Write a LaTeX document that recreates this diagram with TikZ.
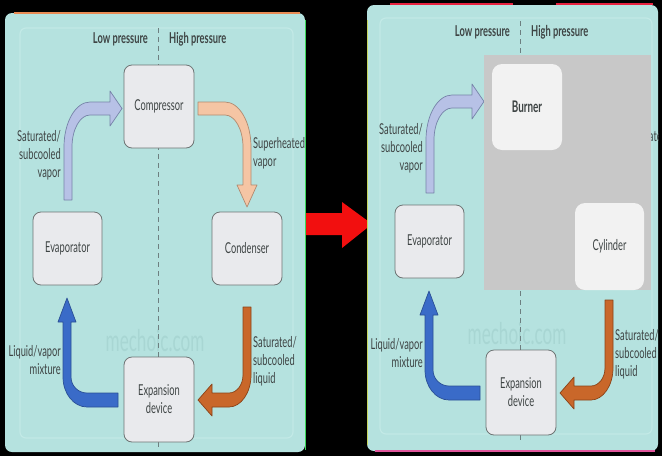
\documentclass[tikz,border=0pt]{standalone}
\usepackage{fontspec}
\setmainfont{Lato}
\usepackage{graphicx}

\definecolor{panelteal}{HTML}{B5E2DF}
\definecolor{innerteal}{HTML}{C2E9E6}
\definecolor{boxfill}{HTML}{E9EAED}
\definecolor{boxline}{HTML}{6E7474}
\definecolor{lavfill}{HTML}{B7C1E6}
\definecolor{lavline}{HTML}{7683A8}
\definecolor{peachfill}{HTML}{F5C5A4}
\definecolor{peachline}{HTML}{B08A70}
\definecolor{bluefill}{HTML}{3A6BC8}
\definecolor{blueline}{HTML}{2A4F95}
\definecolor{rustfill}{HTML}{C9672A}
\definecolor{rustline}{HTML}{8A4318}
\definecolor{textgray}{HTML}{3E4444}
\definecolor{dashgray}{HTML}{6D7F80}
\definecolor{wmark}{HTML}{A8D6D3}
\definecolor{maskgray}{HTML}{C8C8C8}
\definecolor{softwhite}{HTML}{F2F2F2}
\definecolor{signalred}{HTML}{F20F0F}
\definecolor{edgeorange}{HTML}{E98B55}
\definecolor{edgered}{HTML}{E8213F}
\definecolor{edgepink}{HTML}{E0559B}
\definecolor{edgegreen}{HTML}{3BD95A}
\definecolor{edgeyellow}{HTML}{C6D65E}

% horizontally condensed text
\newcommand{\sqz}[1]{\scalebox{0.62}[1]{#1}}

\tikzset{
  lbl/.style={text=textgray, font=\fontsize{15}{18}\selectfont, inner sep=0pt},
  head/.style={text=textgray, font=\bfseries\fontsize{15}{18}\selectfont, inner sep=0pt},
  unitbox/.style={draw=boxline, fill=boxfill, line width=0.8pt, rounded corners=8pt,
    inner sep=0pt, text=textgray, font=\fontsize{15}{18}\selectfont, align=center},
  softbox/.style={fill=softwhite, rounded corners=10pt, inner sep=0pt, text=textgray},
  flow/.style={line width=0.7pt, line join=round},
  divider/.style={draw=dashgray, line width=0.8pt, dash pattern=on 5pt off 4pt},
  panel/.style={fill=panelteal, rounded corners=7pt},
  innerframe/.style={draw=innerteal, line width=1.2pt, rounded corners=6pt},
  % low-pressure side and expansion: evaporator, expansion device, three arrows
  coldside/.pic={
    \node[text=wmark, font=\fontsize{30}{30}\selectfont, inner sep=0pt] (-wm) at (155,341)
      {\scalebox{0.57}[1]{mechoic.com}};
    \draw[divider] (158,28) -- (158,447);
    \node[head, anchor=base east] (-low) at (148,43) {\sqz{Low pressure}};
    \node[head, anchor=base west] (-high) at (169,43) {\sqz{High pressure}};
    \node[unitbox, minimum width=69pt, minimum height=73pt] (-evap) at (67.5,248.5) {\sqz{Evaporator}};
    \node[unitbox, minimum width=70pt, minimum height=85pt] (-exp) at (159,399.5) {\sqz{Expansion}\\\sqz{device}};
    % evaporator -> compressor
    \filldraw[flow, fill=lavfill, draw=lavline] (64,200) -- (64,147)
      .. controls (64,122.2) and (75.6,102) .. (90,102) -- (110,102) -- (110,91)
      -- (122,108.5) -- (110,126) -- (110,115) -- (90,115)
      .. controls (80.1,115) and (72,129.3) .. (72,147) -- (72,200) -- cycle;
    % expansion device -> evaporator
    \filldraw[flow, fill=bluefill, draw=blueline] (118,393) -- (87,393)
      .. controls (78.2,393) and (71,385.8) .. (71,377) -- (71,322) -- (76,322)
      -- (67,298) -- (58,322) -- (63,322) -- (63,377)
      .. controls (63,393.6) and (73.8,407) .. (87,407) -- (118,407) -- cycle;
    % condenser -> expansion device
    \filldraw[flow, fill=rustfill, draw=rustline] (243,307) -- (251,307) -- (251,375)
      .. controls (251,392.7) and (241.1,407) .. (229,407) -- (212,407) -- (212,416)
      -- (198,400) -- (212,384) -- (212,393) -- (229,393)
      .. controls (236.7,393) and (243,384.9) .. (243,375) -- cycle;
    \node[lbl, anchor=east, align=right] (-vaplbl) at (61,155) {\sqz{Saturated/}\\\sqz{subcooled}\\\sqz{vapor}};
    \node[lbl, anchor=east, align=right] (-mixlbl) at (61,360) {\sqz{Liquid/vapor}\\\sqz{mixture}};
    \node[lbl, anchor=west, align=left] (-liqlbl) at (253,361.5) {\sqz{Saturated/}\\\sqz{subcooled}\\\sqz{liquid}};
  },
  % high-pressure side: compressor, condenser and the arrow between them
  hotside/.pic={
    \node[unitbox, minimum width=70pt, minimum height=83pt] (-comp) at (159,106.5) {\sqz{Compressor}};
    \node[unitbox, minimum width=70pt, minimum height=73pt] (-cond) at (247,248.5) {\sqz{Condenser}};
    \filldraw[flow, fill=peachfill, draw=peachline] (198,102) -- (225,102)
      .. controls (239.4,102) and (251,122.2) .. (251,147) -- (251,185) -- (257,185)
      -- (247,207) -- (237,185) -- (243,185) -- (243,147)
      .. controls (243,129.3) and (234.9,115) .. (225,115) -- (198,115) -- cycle;
  }
}

\begin{document}
\begin{tikzpicture}[x=1pt, y=-1pt]
  \useasboundingbox (0,0) rectangle (662,456);
  \fill[black] (0,0) rectangle (662,456);

  % left panel: complete cycle
  \fill[panel] (5,13) rectangle (305,452);
  \draw[innerframe] (20,28) rectangle (293,438);
  \begin{scope}
    \clip[rounded corners=7pt] (5,13) rectangle (305,452);
    \pic (L) at (0,0) {coldside};
    \pic (L) at (0,0) {hotside};
    \node[lbl, anchor=west, align=left] (Lshlbl) at (253,153.5) {\sqz{Superheated}\\\sqz{vapor}};
  \end{scope}
  \draw[edgeorange, line width=1.5pt] (14,13) -- (300,13);
  \draw[edgegreen, line width=1pt] (305.5,20) -- (305.5,450);

  % transition arrow
  \fill[signalred] (306,213) -- (342,213) -- (342,202) -- (372,224)
    -- (342,248) -- (342,235) -- (306,235) -- cycle;

  % right panel: high-pressure side replaced by burner and cylinder
  \fill[panel] (367,5) rectangle (658,451);
  \draw[innerframe] (380,18) rectangle (652,434);
  \begin{scope}
    \clip[rounded corners=7pt] (367,5) rectangle (658,451);
    \pic (R) at (362,-7) {coldside};
    \node[lbl, anchor=west, align=left] (Rshlbl) at (615,146.5) {\sqz{Superheated}\\\sqz{vapor}};
    \fill[maskgray] (484,55) rectangle (651,290);
    \node[softbox, minimum width=70pt, minimum height=86pt,
      font=\bfseries\fontsize{16}{18}\selectfont] (burner) at (527,107) {\sqz{Burner}};
    \node[softbox, minimum width=69pt, minimum height=87pt,
      font=\fontsize{15}{18}\selectfont] (cylinder) at (609.5,246.5) {\sqz{Cylinder}};
  \end{scope}
  \draw[edgered, line width=1.5pt] (390,4) -- (513,4);
  \draw[edgered, line width=1.5pt] (556,4) -- (653,4);
  \draw[edgepink, line width=1.5pt] (375,451) -- (655,451);
  \draw[edgeyellow, line width=1pt] (367.5,20) -- (367.5,445);
\end{tikzpicture}
\end{document}
